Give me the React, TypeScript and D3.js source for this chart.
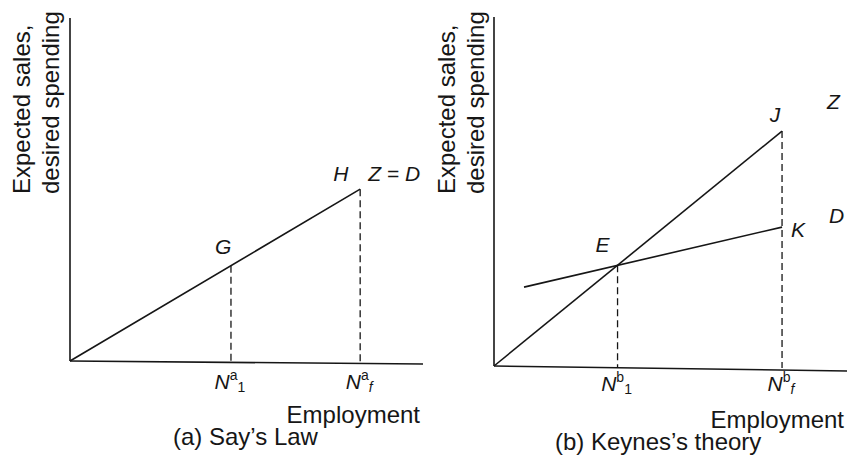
import React from "react";
import * as d3 from "d3";

// Panel (a) Say's Law — employment positions and Z = D values
const aEmployment = [0, 45.6, 82.2]; // origin, N^a_1, N^a_f
const aZD = [0, 27.8, 50.1];

// Panel (b) Keynes's theory
const bZEmployment = [0, 35.0, 81.6]; // origin, N^b_1 (E), N^b_f (J)
const bZ = [0, 28.9, 67.3];
const bDEmployment = [8.5, 35.0, 81.6]; // start, E, K
const bD = [22.6, 28.8, 39.8];

const FONT = "'Liberation Sans', Arial, Helvetica, sans-serif";
const INK = "#161616";

type Pt = [number, number];

function NLabel({ x, y, sup, sub }: { x: number; y: number; sup: string; sub: string }) {
  return (
    <text x={x} y={y} textAnchor="middle" fontFamily={FONT} fontSize={21} fill={INK}>
      <tspan fontStyle="italic">N</tspan>
      <tspan dy={-9} fontSize={14}>{sup}</tspan>
      <tspan dy={12} fontSize={14} fontStyle={sub === "f" ? "italic" : "normal"}>{sub}</tspan>
    </text>
  );
}

function YLabel({ x }: { x: number }) {
  return (
    <g fontFamily={FONT} fontSize={24} fill={INK}>
      <text transform={`translate(${x},194) rotate(-90)`}>Expected sales,</text>
      <text transform={`translate(${x + 29},194) rotate(-90)`}>desired spending</text>
    </g>
  );
}

export default function App() {
  // Panel (a) scales
  const xa = d3.scaleLinear().domain([0, 100]).range([70, 423]);
  const ya = d3.scaleLinear().domain([0, 100]).range([361, 18]);
  // Panel (b) scales
  const xb = d3.scaleLinear().domain([0, 100]).range([494, 847]);
  const yb = d3.scaleLinear().domain([0, 100]).range([366, 17]);

  const lineA = d3.line<Pt>().x((d) => xa(d[0])).y((d) => ya(d[1]));
  const lineB = d3.line<Pt>().x((d) => xb(d[0])).y((d) => yb(d[1]));

  const aPts: Pt[] = aEmployment.map((e, i) => [e, aZD[i]]);
  const bZPts: Pt[] = bZEmployment.map((e, i) => [e, bZ[i]]);
  const bDPts: Pt[] = bDEmployment.map((e, i) => [e, bD[i]]);

  const G = aPts[1];
  const H = aPts[2];
  const E = bZPts[1];
  const J = bZPts[2];
  const K = bDPts[2];

  const dash = "7 4";
  const labelStyle = { fontFamily: FONT, fontSize: 21, fontStyle: "italic" as const, fill: INK };

  return (
    <svg
      width={847}
      height={461}
      style={{ position: "absolute", left: 0, top: 0, background: "#ffffff" }}
    >
      {/* ---------- Panel (a) ---------- */}
      <YLabel x={30} />
      {/* axes */}
      <line x1={xa(0)} y1={ya(100)} x2={xa(0)} y2={ya(0)} stroke={INK} strokeWidth={1.6} />
      <line x1={xa(0)} y1={ya(0)} x2={xa(100)} y2={ya(0) + 3} stroke={INK} strokeWidth={1.6} />
      {/* Z = D line */}
      <path d={lineA([aPts[0], aPts[2]]) ?? ""} fill="none" stroke={INK} strokeWidth={1.6} />
      {/* dashed drops */}
      {[G, H].map((p, i) => (
        <line
          key={"ad" + i}
          x1={xa(p[0])}
          y1={ya(p[1])}
          x2={xa(p[0])}
          y2={ya(0) + 1}
          stroke={INK}
          strokeWidth={1.3}
          strokeDasharray={dash}
        />
      ))}
      <text x={xa(G[0]) - 16} y={ya(G[1]) - 12} {...labelStyle}>G</text>
      <text x={xa(H[0]) - 27} y={ya(H[1]) - 8} {...labelStyle}>H</text>
      <text x={xa(H[0]) + 8} y={ya(H[1]) - 8} {...labelStyle}>Z = D</text>
      <NLabel x={xa(G[0]) - 1} y={ya(0) + 28} sup="a" sub="1" />
      <NLabel x={xa(H[0]) - 1} y={ya(0) + 28} sup="a" sub="f" />
      <text x={420} y={423} textAnchor="end" fontFamily={FONT} fontSize={24} fill={INK}>
        Employment
      </text>
      <text x={173} y={445} fontFamily={FONT} fontSize={24} fill={INK}>
        (a) Say’s Law
      </text>

      {/* ---------- Panel (b) ---------- */}
      <YLabel x={455} />
      <line x1={xb(0)} y1={yb(100)} x2={xb(0)} y2={yb(0)} stroke={INK} strokeWidth={1.6} />
      <line x1={xb(0)} y1={yb(0)} x2={xb(100)} y2={yb(0) + 5} stroke={INK} strokeWidth={1.6} />
      {/* Z line */}
      <path d={lineB([bZPts[0], bZPts[2]]) ?? ""} fill="none" stroke={INK} strokeWidth={1.6} />
      {/* D line */}
      <path d={lineB([bDPts[0], bDPts[2]]) ?? ""} fill="none" stroke={INK} strokeWidth={1.6} />
      {/* dashed drops */}
      {[E, J].map((p, i) => (
        <line
          key={"bd" + i}
          x1={xb(p[0])}
          y1={yb(p[1])}
          x2={xb(p[0])}
          y2={yb(0) + 2}
          stroke={INK}
          strokeWidth={1.3}
          strokeDasharray={dash}
        />
      ))}
      <text x={xb(E[0]) - 22} y={yb(E[1]) - 13} {...labelStyle}>E</text>
      <text x={xb(J[0]) - 7} y={yb(J[1]) - 9} textAnchor="middle" {...labelStyle}>J</text>
      <text x={xb(J[0]) + 45} y={yb(J[1]) - 22} {...labelStyle}>Z</text>
      <text x={xb(K[0]) + 9} y={yb(K[1]) + 10} {...labelStyle}>K</text>
      <text x={xb(K[0]) + 47} y={yb(K[1]) - 4} {...labelStyle}>D</text>
      <NLabel x={xb(E[0]) - 1} y={yb(0) + 25} sup="b" sub="1" />
      <NLabel x={xb(J[0]) - 1} y={yb(0) + 25} sup="b" sub="f" />
      <text x={844} y={428} textAnchor="end" fontFamily={FONT} fontSize={24} fill={INK}>
        Employment
      </text>
      <text x={555} y={450} fontFamily={FONT} fontSize={24} fill={INK}>
        (b) Keynes’s theory
      </text>
    </svg>
  );
}
